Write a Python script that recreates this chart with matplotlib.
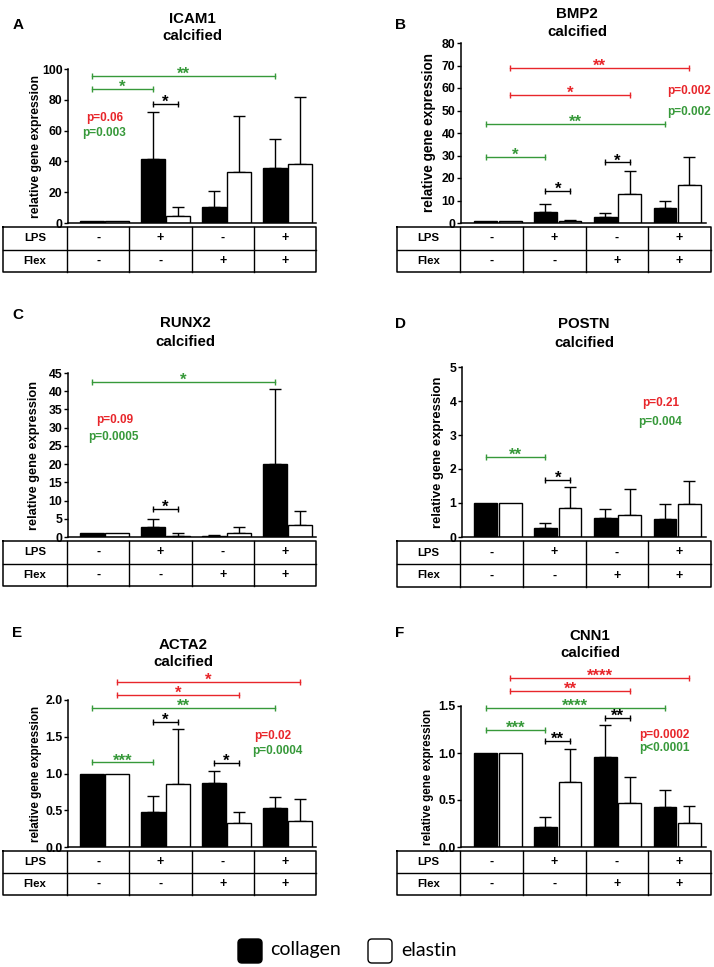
import numpy as np
import matplotlib
matplotlib.use("Agg")
import matplotlib.pyplot as plt
from matplotlib.patches import FancyBboxPatch

plt.rcParams['font.family'] = ['Liberation Sans', 'DejaVu Sans']

# ------------------------------------------------------------------ data
subtitle = "calcified"
row_names = ["LPS", "Flex"]
lps_labels = ["-", "+", "-", "+"]
flex_labels = ["-", "-", "+", "+"]
legend_labels = ["collagen", "elastin"]

# A  ICAM1
icam1_collagen = [1.0, 41.4, 10.2, 35.8]
icam1_collagen_sd = [0.0, 30.8, 10.4, 18.6]
icam1_elastin = [1.0, 4.6, 33.2, 38.6]
icam1_elastin_sd = [0.0, 5.6, 36.2, 43.0]
icam1_ticks = [0, 20, 40, 60, 80, 100]
icam1_pvalues = ["p=0.06", "p=0.003"]
icam1_brackets = [("g", ("c", 0), ("c", 3), 95.2, "**"),
                  ("g", ("c", 0), ("c", 1), 86.8, "*"),
                  ("k", ("c", 1), ("e", 1), 77.0, "*")]

# B  BMP2
bmp2_collagen = [1.0, 4.9, 2.7, 6.7]
bmp2_collagen_sd = [0.0, 3.6, 1.9, 3.1]
bmp2_elastin = [1.0, 0.9, 13.1, 17.0]
bmp2_elastin_sd = [0.0, 0.4, 9.9, 12.4]
bmp2_ticks = [0, 10, 20, 30, 40, 50, 60, 70, 80]
bmp2_pvalues = ["p=0.002", "p=0.002"]
bmp2_brackets = [("r", ("e", 0), ("e", 3), 68.8, "**"),
                 ("r", ("e", 0), ("e", 2), 57.0, "*"),
                 ("g", ("c", 0), ("c", 3), 44.0, "**"),
                 ("g", ("c", 0), ("c", 1), 29.4, "*"),
                 ("k", ("c", 2), ("e", 2), 26.9, "*"),
                 ("k", ("c", 1), ("e", 1), 14.1, "*")]

# C  RUNX2
runx2_collagen = [1.0, 2.85, 0.28, 19.9]
runx2_collagen_sd = [0.0, 2.2, 0.36, 20.8]
runx2_elastin = [1.0, 0.37, 1.2, 3.4]
runx2_elastin_sd = [0.0, 0.73, 1.55, 3.76]
runx2_ticks = [0, 5, 10, 15, 20, 25, 30, 35, 40, 45]
runx2_pvalues = ["p=0.09", "p=0.0005"]
runx2_brackets = [("g", ("c", 0), ("c", 3), 42.6, "*"),
                  ("k", ("c", 1), ("e", 1), 7.6, "*")]

# D  POSTN
postn_collagen = [1.0, 0.27, 0.56, 0.53]
postn_collagen_sd = [0.0, 0.14, 0.25, 0.45]
postn_elastin = [1.0, 0.84, 0.66, 0.98]
postn_elastin_sd = [0.0, 0.64, 0.75, 0.66]
postn_ticks = [0, 1, 2, 3, 4, 5]
postn_pvalues = ["p=0.21", "p=0.004"]
postn_brackets = [("g", ("c", 0), ("c", 1), 2.36, "**"),
                  ("k", ("c", 1), ("e", 1), 1.69, "*")]

# E  ACTA2
acta2_collagen = [1.0, 0.48, 0.87, 0.53]
acta2_collagen_sd = [0.0, 0.22, 0.17, 0.15]
acta2_elastin = [1.0, 0.86, 0.33, 0.36]
acta2_elastin_sd = [0.0, 0.74, 0.15, 0.29]
acta2_ticks = [0.0, 0.5, 1.0, 1.5, 2.0]
acta2_pvalues = ["p=0.02", "p=0.0004"]
acta2_brackets = [("r", ("e", 0), ("e", 3), 2.24, "*"),
                  ("r", ("e", 0), ("e", 2), 2.07, "*"),
                  ("g", ("c", 0), ("c", 3), 1.89, "**"),
                  ("k", ("c", 1), ("e", 1), 1.70, "*"),
                  ("g", ("c", 0), ("c", 1), 1.15, "***"),
                  ("k", ("c", 2), ("e", 2), 1.14, "*")]

# F  CNN1
cnn1_collagen = [1.0, 0.21, 0.96, 0.43]
cnn1_collagen_sd = [0.0, 0.11, 0.34, 0.18]
cnn1_elastin = [1.0, 0.69, 0.47, 0.26]
cnn1_elastin_sd = [0.0, 0.35, 0.28, 0.18]
cnn1_ticks = [0.0, 0.5, 1.0, 1.5]
cnn1_pvalues = ["p=0.0002", "p<0.0001"]
cnn1_brackets = [("r", ("e", 0), ("e", 3), 1.80, "****"),
                 ("r", ("e", 0), ("e", 2), 1.66, "**"),
                 ("g", ("c", 0), ("c", 3), 1.48, "****"),
                 ("k", ("c", 2), ("e", 2), 1.37, "**"),
                 ("g", ("c", 0), ("c", 1), 1.25, "***"),
                 ("k", ("c", 1), ("e", 1), 1.13, "**")]

panels = [
    ("A", "ICAM1", icam1_collagen, icam1_collagen_sd, icam1_elastin, icam1_elastin_sd,
     icam1_ticks, icam1_pvalues, icam1_brackets),
    ("B", "BMP2", bmp2_collagen, bmp2_collagen_sd, bmp2_elastin, bmp2_elastin_sd,
     bmp2_ticks, bmp2_pvalues, bmp2_brackets),
    ("C", "RUNX2", runx2_collagen, runx2_collagen_sd, runx2_elastin, runx2_elastin_sd,
     runx2_ticks, runx2_pvalues, runx2_brackets),
    ("D", "POSTN", postn_collagen, postn_collagen_sd, postn_elastin, postn_elastin_sd,
     postn_ticks, postn_pvalues, postn_brackets),
    ("E", "ACTA2", acta2_collagen, acta2_collagen_sd, acta2_elastin, acta2_elastin_sd,
     acta2_ticks, acta2_pvalues, acta2_brackets),
    ("F", "CNN1", cnn1_collagen, cnn1_collagen_sd, cnn1_elastin, cnn1_elastin_sd,
     cnn1_ticks, cnn1_pvalues, cnn1_brackets),
]

# ------------------------------------------------------------------ layout (pixels)
W, H = 714, 967
RED, GREEN = "#e8262b", "#37993a"
CMAP = {"r": RED, "g": GREEN, "k": "black"}
BW, OFF = 0.38, 0.205

layout = {
    "A": dict(ax=(68, 69, 316, 223), c0=104.5, sp=61.0, tab=(3, 227, 316, 272), div=67,
              title=(192, 19, 36), letter=(18, 25), yl=-26, yls=8.8,
              ptxt=[(0.0, 68.2), (0.0, 58.4)]),
    "B": dict(ax=(461, 43, 706, 223), c0=498.0, sp=59.7, tab=(397, 227, 711, 272), div=460,
              title=(577, 14, 32), letter=(400, 25), yl=-25, yls=9.8,
              ptxt=[(3.2, 58.7), (3.2, 49.3)]),
    "C": dict(ax=(68, 373, 316, 537), c0=104.5, sp=61.0, tab=(3, 541, 316, 586), div=67,
              title=(185, 323, 342), letter=(18, 315), yl=-28, yls=9.2,
              ptxt=[(0.17, 32.1), (0.14, 27.4)]),
    "D": dict(ax=(462, 367, 706, 537), c0=498.0, sp=59.7, tab=(397, 541, 711, 587), div=460,
              title=(584, 324, 343), letter=(400, 324), yl=-18, yls=9.4,
              ptxt=[(2.73, 3.94), (2.71, 3.38)]),
    "E": dict(ax=(68, 700, 316, 847), c0=104.5, sp=61.0, tab=(3, 851, 316, 895), div=67,
              title=(183, 645, 662), letter=(17, 633), yl=-26, yls=8.4,
              ptxt=[(2.76, 1.51), (2.84, 1.31)]),
    "F": dict(ax=(461, 706, 706, 847), c0=498.0, sp=59.7, tab=(397, 851, 711, 895), div=460,
              title=(590, 636, 653), letter=(400, 633), yl=-27, yls=8.4,
              ptxt=[(2.78, 1.19), (2.78, 1.05)]),
}

fig = plt.figure(figsize=(W / 100, H / 100), dpi=100)
overlay = fig.add_axes([0, 0, 1, 1])
overlay.set_xlim(0, W)
overlay.set_ylim(H, 0)
overlay.axis("off")


def px_axes(l, t, r, b):
    return fig.add_axes([l / W, 1 - b / H, (r - l) / W, (b - t) / H])


def fmt_tick(v):
    if isinstance(v, float):
        return f"{v:.1f}"
    return str(v)


for (letter, gene, col, col_sd, el, el_sd, ticks, pvals, brackets) in panels:
    L = layout[letter]
    l, t, r, b = L["ax"]
    ax = px_axes(l, t, r, b)
    ax.patch.set_alpha(0)
    x = np.arange(len(col))
    ax.set_xlim((l - L["c0"]) / L["sp"], (r - L["c0"]) / L["sp"])
    ax.set_ylim(ticks[0], ticks[-1])

    col = np.array(col); el = np.array(el)
    col_sd = np.array(col_sd); el_sd = np.array(el_sd)
    for xs, m, s in ((x - OFF, col, col_sd), (x + OFF, el, el_sd)):
        mask = s > 0
        ax.errorbar(xs[mask], m[mask], yerr=[np.zeros(mask.sum()), s[mask]], fmt="none",
                    ecolor="black", elinewidth=1.0, capsize=4.3, capthick=1.0, zorder=1)
    ax.bar(x - OFF, col, BW, color="black", edgecolor="black", linewidth=1.0, zorder=2)
    ax.bar(x + OFF, el, BW, color="white", edgecolor="black", linewidth=1.0, zorder=2)

    for c, (s1, g1), (s2, g2), yv, stars in brackets:
        x1 = g1 + (-OFF if s1 == "c" else OFF)
        x2 = g2 + (-OFF if s2 == "c" else OFF)
        ax.plot([x1, x2], [yv, yv], color=CMAP[c], lw=1.0, clip_on=False, zorder=3,
                marker="|", markersize=5, markeredgewidth=1.0, markevery=[0, 1])
        ax.annotate(stars, xy=((x1 + x2) / 2, yv), xytext=(0, 1.2), textcoords="offset points",
                    ha="center", va="center", fontsize=12, fontweight="bold",
                    color=CMAP[c], annotation_clip=False, zorder=4)

    for (px_, py_), txt, c in zip(L["ptxt"], pvals, (RED, GREEN)):
        ax.text(px_, py_, txt, ha="center", va="center", fontsize=8.5,
                fontweight="bold", color=c, clip_on=False)

    for s in ("top", "right"):
        ax.spines[s].set_visible(False)
    for s in ("left", "bottom"):
        ax.spines[s].set_linewidth(1.1)
    ax.set_xticks([])
    ax.set_yticks(ticks)
    ax.set_yticklabels([fmt_tick(v) for v in ticks], fontsize=8.8, fontweight="bold")
    ax.tick_params(axis="y", length=3, width=1.0, pad=1)
    ax.set_ylabel("relative gene expression", fontsize=L["yls"], fontweight="bold")
    ax.yaxis.set_label_coords(L["yl"] / (r - l), 0.5)

    tx, ty1, ty2 = L["title"]
    overlay.text(tx, ty1, gene, ha="center", va="center", fontsize=10.8, fontweight="bold")
    overlay.text(tx, ty2, subtitle, ha="center", va="center", fontsize=10.8, fontweight="bold")
    overlay.text(L["letter"][0], L["letter"][1], letter, ha="center", va="center",
                 fontsize=11, fontweight="bold")

    tl, tt, tr, tb = L["tab"]
    tm = (tt + tb) / 2
    dv = L["div"]
    cw = (tr - dv) / 4
    overlay.plot([tl, tr, tr, tl, tl], [tt, tt, tb, tb, tt], color="black", lw=1.1)
    overlay.plot([tl, tr], [tm, tm], color="black", lw=1.0)
    for k in range(4):
        xv = dv + k * cw
        overlay.plot([xv, xv], [tt, tb], color="black", lw=1.0)
    for rowi, (name, labs) in enumerate(zip(row_names, (lps_labels, flex_labels))):
        yc = (tt + tm) / 2 if rowi == 0 else (tm + tb) / 2
        overlay.text((tl + dv) / 2, yc, name, ha="center", va="center",
                     fontsize=8.2, fontweight="bold")
        for k, lab in enumerate(labs):
            overlay.text(dv + (k + 0.5) * cw, yc, lab, ha="center", va="center",
                         fontsize=9, fontweight="bold")

for (bx, tx_, fc), lab in zip(((238, 270, "black"), (368, 401, "white")), legend_labels):
    overlay.add_patch(FancyBboxPatch((bx, 939), 24, 24,
                                     boxstyle="round,pad=0,rounding_size=4",
                                     facecolor=fc, edgecolor="black", linewidth=1.0))
    overlay.text(tx_, 950, lab, ha="left", va="center", fontsize=14, family=["Lato", "DejaVu Sans"])

fig.savefig("out.png", dpi=100)
